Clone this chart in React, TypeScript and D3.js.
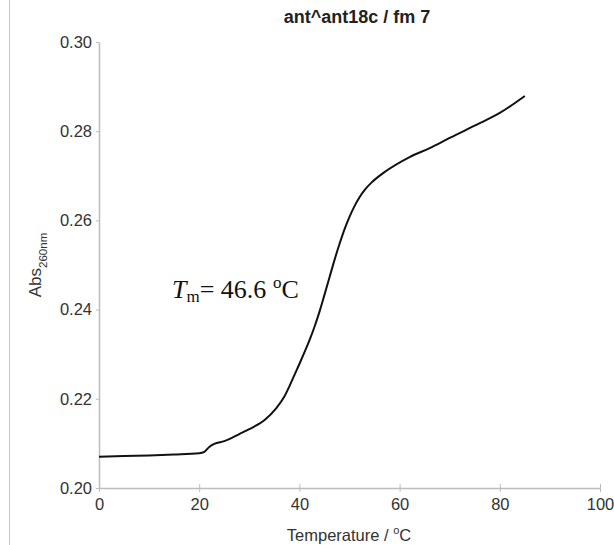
import React, { useEffect, useRef } from "react";
import * as d3 from "d3";

// Melting curve
const temps = [0, 5, 10, 15, 20, 21, 22, 23, 25, 28, 30, 33, 35.4, 37, 38, 39, 40, 41, 42, 43, 44, 45, 46, 47, 48, 49, 50, 51, 52, 53, 54.5, 56.7, 62, 66, 70, 76, 80, 85];
const absorb = [0.207, 0.2072, 0.2073, 0.2075, 0.2078, 0.2081, 0.2092, 0.2099, 0.2105, 0.2121, 0.2132, 0.2152, 0.2179, 0.2205, 0.2228, 0.2253, 0.2278, 0.2304, 0.2331, 0.2361, 0.2395, 0.2433, 0.2472, 0.2511, 0.2547, 0.258, 0.2608, 0.2632, 0.2652, 0.2668, 0.2686, 0.2706, 0.2742, 0.2762, 0.2785, 0.2818, 0.2841, 0.2879];
const xTicks = [0, 20, 40, 60, 80, 100];
const yTicks = [0.2, 0.22, 0.24, 0.26, 0.28, 0.3];

export default function App() {
  const ref = useRef<SVGSVGElement>(null);

  useEffect(() => {
    const svg = d3.select(ref.current);
    svg.selectAll("*").remove();

    const width = 614;
    const height = 545;
    const left = 99, right = 600, top = 42, bottom = 488;
    const font = "'Liberation Sans', Arial, sans-serif";

    const x = d3.scaleLinear().domain([0, 100]).range([left, right]);
    const y = d3.scaleLinear().domain([0.2, 0.3]).range([bottom, top]);

    svg.attr("width", width).attr("height", height);

    // thin frame line at the left edge
    svg.append("line")
      .attr("x1", 9.5).attr("x2", 9.5).attr("y1", 0).attr("y2", height)
      .attr("stroke", "#c8c8c8").attr("stroke-width", 1);

    // x axis
    const gx = svg.append("g")
      .attr("transform", `translate(0,${bottom})`)
      .call(d3.axisBottom(x).tickValues(xTicks).tickSize(4).tickPadding(6).tickSizeOuter(0));
    gx.select(".domain").attr("stroke", "#bdbdbd").attr("stroke-width", 1.5);
    gx.selectAll(".tick line").attr("stroke", "#bdbdbd").attr("y1", -4);
    gx.selectAll("text").attr("font-family", font).attr("font-size", 16.5).attr("fill", "#333");

    // y axis
    const gy = svg.append("g")
      .attr("transform", `translate(${left},0)`)
      .call(d3.axisLeft(y).tickValues(yTicks).tickFormat(d3.format(".2f")).tickSize(3).tickPadding(4).tickSizeOuter(0));
    gy.select(".domain").attr("stroke", "#bdbdbd").attr("stroke-width", 1.5);
    gy.selectAll(".tick line").attr("stroke", "#bdbdbd").attr("x2", -3);
    gy.selectAll("text").attr("font-family", font).attr("font-size", 16.5).attr("fill", "#333");

    // curve
    const data = temps.map((t, i) => [t, absorb[i]] as [number, number]);
    svg.append("path")
      .datum(data)
      .attr("fill", "none")
      .attr("stroke", "#111")
      .attr("stroke-width", 2)
      .attr("d", d3.line<[number, number]>()
        .x(d => x(d[0]))
        .y(d => y(d[1]))
        .curve(d3.curveMonotoneX));

    // title
    svg.append("text")
      .attr("x", 357).attr("y", 23)
      .attr("text-anchor", "middle")
      .attr("font-family", font).attr("font-weight", "bold").attr("font-size", 18)
      .attr("fill", "#222")
      .text("ant^ant18c / fm 7");

    // x label
    const xl = svg.append("text")
      .attr("x", 349).attr("y", 541)
      .attr("text-anchor", "middle")
      .attr("font-family", font).attr("font-size", 16.5).attr("fill", "#333");
    xl.append("tspan").text("Temperature / ");
    xl.append("tspan").attr("font-size", 11).attr("dy", -7).text("o");
    xl.append("tspan").attr("dy", 7).text("C");

    // y label
    const yl = svg.append("text")
      .attr("transform", "translate(41,265) rotate(-90)")
      .attr("text-anchor", "middle")
      .attr("font-family", font).attr("font-size", 17).attr("fill", "#333");
    yl.append("tspan").text("Abs");
    yl.append("tspan").attr("font-size", 11.5).attr("dy", 6).text("260nm");

    // Tm annotation
    const tm = svg.append("text")
      .attr("x", 172).attr("y", 298)
      .attr("font-family", "'Liberation Serif', 'Times New Roman', serif")
      .attr("font-size", 26).attr("fill", "#111");
    tm.append("tspan").attr("font-style", "italic").text("T");
    tm.append("tspan").attr("font-size", 17).attr("dy", 4).text("m");
    tm.append("tspan").attr("dy", -4).text("= 46.6 ");
    tm.append("tspan").attr("font-size", 17).attr("dy", -10).text("o");
    tm.append("tspan").attr("dy", 10).text("C");
  }, []);

  return <svg ref={ref} style={{ position: "absolute", left: 0, top: 0 }} />;
}
